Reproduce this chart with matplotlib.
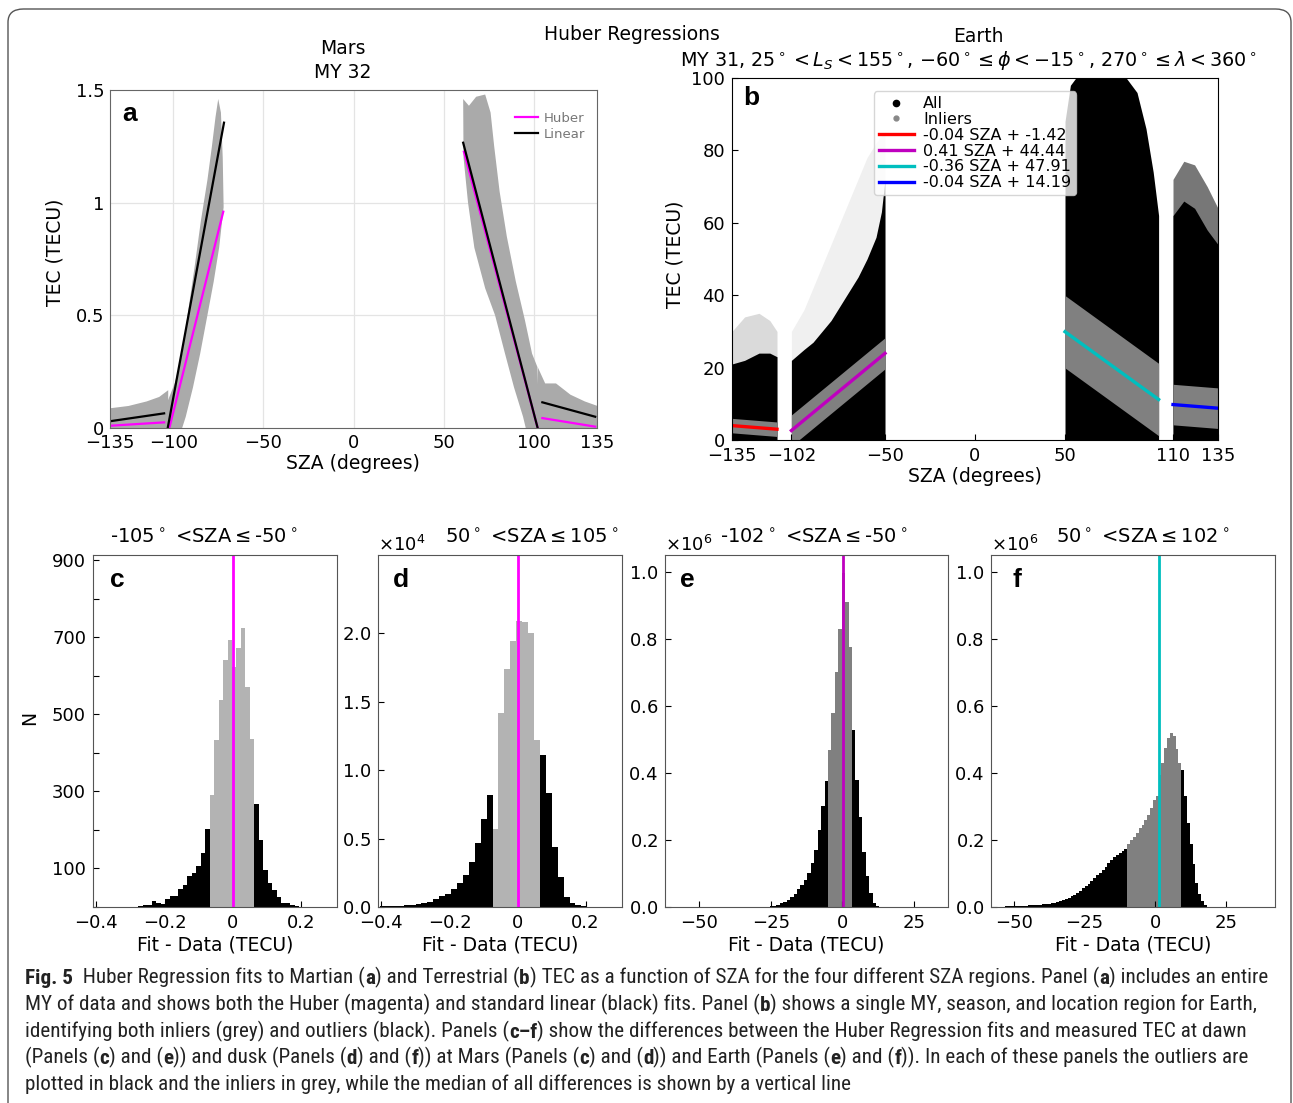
import numpy as np
import matplotlib
matplotlib.use('Agg')
import matplotlib.pyplot as plt
from matplotlib import font_manager
from matplotlib.patches import FancyBboxPatch
from matplotlib.lines import Line2D
from matplotlib.ticker import ScalarFormatter

plt.rcParams['font.family'] = 'DejaVu Sans'
plt.rcParams['font.size'] = 13
plt.rcParams['mathtext.fontset'] = 'dejavusans'

W, H = 1293, 1103

# ---------------- panel a : Mars, grey scatter envelopes ----------------
mars_tail_l_x = [-135, -125, -115, -108, -103]
mars_tail_l_top = [0.09, 0.10, 0.12, 0.14, 0.17]
mars_dawn_x = [-103, -103, -99, -95, -92, -88, -84.6, -81, -78.5, -76.5, -75, -73.5,
               -72.5, -72, -74.5, -77.5, -81, -85, -89, -93, -95]
mars_dawn_y = [0, 0.12, 0.2, 0.33, 0.5, 0.72, 0.92, 1.1, 1.25, 1.38, 1.46, 1.40,
               1.2, 0.98, 0.8, 0.65, 0.5, 0.33, 0.18, 0.05, 0]
mars_dusk_x = [60.8, 61, 63.5, 67, 73, 78.5, 84, 89, 94, 95.5,
               103, 102, 99, 95, 90, 85, 81, 78, 76, 73, 68, 64]
mars_dusk_y = [1.46, 1.2, 1.0, 0.8, 0.62, 0.5, 0.33, 0.18, 0.05, 0,
               0, 0.27, 0.33, 0.48, 0.65, 0.85, 1.05, 1.25, 1.4, 1.48, 1.47, 1.43]
mars_tail_r_x = [102, 106, 112, 120, 128, 135]
mars_tail_r_top = [0.27, 0.20, 0.20, 0.15, 0.12, 0.10]

# fit segments: [x0, x1, y0, y1]
huber_segs = [[-135, -105, 0.010, 0.025], [-102.1, -72.2, 0.0, 0.96],
              [61.2, 102.1, 1.226, 0.0], [104.7, 134, 0.044, 0.006]]
linear_segs = [[-135, -105, 0.030, 0.065], [-103.0, -71.8, 0.0, 1.355],
               [60.8, 102.1, 1.266, 0.0], [104.7, 134, 0.114, 0.050]]

# ---------------- panel b : Earth ----------------
earth_r1_x = [-135, -128, -120, -114, -110]
earth_r1_top = [21, 22, 24, 24, 23]
earth_r2_x = [-102, -95, -90, -85, -80, -75, -70, -65, -60, -55, -52, -50]
earth_r2_top = [22, 25, 27, 30, 33, 37, 41, 45, 50, 56, 63, 72]
earth_r3_x = [50, 53, 56, 70, 84, 90, 95, 99, 102]
earth_r3_top = [88, 98, 100, 100, 100, 96, 86, 74, 62]
earth_r4_x = [110, 116, 122, 129, 135]
earth_r4_top = [62, 66, 64, 58, 54]
# sparse outlier zones
earth_s1_top = [30, 34, 35, 33, 30]
earth_s2_top = [30, 36, 42, 48, 54, 60, 66, 72, 78, 82, 84, 85]
earth_s4_top = [72, 77, 76, 70, 64]

fit_slope = [-0.04, 0.41, -0.36, -0.04]
fit_inter = [-1.42, 44.44, 47.91, 14.19]
fit_lo = [-135, -102, 50, 110]
fit_hi = [-110, -50, 102, 135]
fit_band = [2.0, 4.3, 10.0, 5.6]
fit_colors = ['r', 'm', 'c', 'b']

# ---------------- histograms ----------------
c_start, c_width = -0.2903, 0.0131
c_counts = [1, 2, 4, 6, 16, 11, 9, 21, 28, 29, 47, 57, 80, 88, 106, 139, 203,
            290, 433, 537, 640, 692, 623, 671, 723, 571, 437,
            268, 173, 95, 61, 43, 26, 11, 10, 4, 2, 1]
c_inliers = (-0.068, 0.064)
c_median = 0.0

d_start, d_width = -0.404, 0.0174
d_counts_e4 = [0.004, 0.006, 0.008, 0.01, 0.012, 0.015, 0.02, 0.03, 0.04, 0.056,
               0.078, 0.095, 0.13, 0.175, 0.23, 0.33, 0.47, 0.64, 0.82,
               0.57, 1.42, 1.74, 1.94, 2.09, 2.08, 2.0, 1.22,
               1.11, 0.83, 0.44, 0.22, 0.07, 0.03, 0.012, 0.005]
d_inliers = (-0.0734, 0.0656)
d_median = 0.0

e_start, e_width = -27.8, 1.2
e_counts_e6 = [0.001, 0.001, 0.002, 0.004, 0.007, 0.011, 0.016, 0.022, 0.03, 0.04,
               0.053, 0.066, 0.08, 0.10, 0.13, 0.17, 0.23, 0.30, 0.375,
               0.467, 0.58, 0.70, 0.83, 0.995, 0.91, 0.776,
               0.527, 0.38, 0.267, 0.163, 0.093, 0.043, 0.013, 0.004]
e_inliers = (-5.0, 3.4)
e_median = 0.2

f_start, f_width = -54.9, 1.0
f_counts_e6 = [0.001, 0.001, 0.002, 0.002, 0.002, 0.002, 0.003, 0.003, 0.004, 0.004,
               0.005, 0.005, 0.006, 0.006, 0.007, 0.008, 0.009, 0.010, 0.011, 0.013,
               0.015, 0.017, 0.020, 0.024, 0.028, 0.032, 0.037, 0.043, 0.049, 0.056,
               0.063, 0.070, 0.078, 0.086, 0.094, 0.102, 0.111, 0.120, 0.130, 0.140,
               0.148, 0.156, 0.162, 0.168, 0.173,
               0.187, 0.20, 0.21, 0.22, 0.235, 0.245, 0.26, 0.275, 0.295, 0.32,
               0.33, 0.395, 0.43, 0.475, 0.505, 0.52, 0.51, 0.47, 0.43,
               0.41, 0.33, 0.25, 0.187, 0.128, 0.073, 0.038, 0.018, 0.005]
f_inliers = (-9.9, 9.1)
f_median = 1.2

fig = plt.figure(figsize=(W / 100, H / 100), dpi=100)


def ax_at(l, t, r, b):
    return fig.add_axes([l / W, 1 - b / H, (r - l) / W, (b - t) / H])


def ftext(x, y, s, **kw):
    kw.setdefault('ha', 'center')
    kw.setdefault('va', 'center')
    return fig.text(x / W, 1 - y / H, s, **kw)


def panel_letter(ax, x, y, s):
    ax.text(x, y, s, transform=ax.transAxes, fontsize=19, fontweight='bold',
            family='Liberation Sans', ha='center', va='center', zorder=10)


# ======================= panel a =======================
ax = ax_at(110, 90, 597, 428)
grey = '#aaaaaa'
ax.fill_between(mars_tail_l_x, 0, mars_tail_l_top, color=grey, lw=0)
ax.fill(mars_dawn_x, mars_dawn_y, color=grey, lw=0)
ax.fill(mars_dusk_x, mars_dusk_y, color=grey, lw=0)
ax.fill_between(mars_tail_r_x, 0, mars_tail_r_top, color=grey, lw=0)
for i, (s_h, s_l) in enumerate(zip(huber_segs, linear_segs)):
    ax.plot(s_h[:2], s_h[2:], color='#ff00ff', lw=1.6, label='Huber' if i == 0 else None)
    ax.plot(s_l[:2], s_l[2:], color='k', lw=1.6, label='Linear' if i == 0 else None)
ax.set_xlim(-135, 135)
ax.set_ylim(0, 1.5)
ax.set_xticks([-135, -100, -50, 0, 50, 100, 135])
ax.set_xticklabels(['\u2212135', '\u2212100', '\u221250', '0', '50', '100', '135'])
ax.set_yticks([0, 0.5, 1, 1.5])
ax.set_yticklabels(['0', '0.5', '1', '1.5'])
ax.tick_params(length=0, pad=4)
for xv in [-100, -50, 0, 50, 100]:
    ax.axvline(xv, color='#e4e4e4', lw=0.9, zorder=0)
for yv in [0.5, 1.0]:
    ax.axhline(yv, color='#e4e4e4', lw=0.9, zorder=0)
for sp in ax.spines.values():
    sp.set_color('#666666')
ax.legend(loc='upper right', fontsize=9.5, frameon=False, labelcolor='#777777',
          handlelength=1.8, handletextpad=0.4, labelspacing=0.2,
          bbox_to_anchor=(1.0, 0.97))
panel_letter(ax, 0.04, 0.93, 'a')
ftext(343, 48, 'Mars', fontsize=13.5)
ftext(343, 72, 'MY 32', fontsize=13.5)
ftext(353, 464, 'SZA (degrees)', fontsize=13.5)
ftext(55, 252, 'TEC (TECU)', rotation=90, fontsize=13.5)

# ======================= panel b =======================
ax = ax_at(732, 78, 1218, 440)
ax.fill_between(earth_r1_x, 0, earth_s1_top, color='#dadada', lw=0)
ax.fill_between(earth_r2_x, 0, earth_s2_top, color='#f0f0f0', lw=0)
ax.fill_between(earth_r4_x, 0, earth_s4_top, color='#777777', lw=0)
for xs, tops in [(earth_r1_x, earth_r1_top), (earth_r2_x, earth_r2_top),
                 (earth_r3_x, earth_r3_top), (earth_r4_x, earth_r4_top)]:
    ax.fill_between(xs, 0, tops, color='k', lw=0)
handles = [Line2D([], [], ls='', marker='o', color='k', ms=4.5, label='All'),
           Line2D([], [], ls='', marker='o', color='#888888', ms=3.5, label='Inliers')]
for m, b0, lo, hi, bw, col in zip(fit_slope, fit_inter, fit_lo, fit_hi, fit_band, fit_colors):
    xs = np.array([lo, hi])
    ys = m * xs + b0
    ax.fill_between(xs, ys - bw, ys + bw, color='#808080', lw=0)
    ln, = ax.plot(xs, ys, color=col, lw=2.4, label='%.2f SZA + %.2f' % (m, b0))
    handles.append(ln)
ax.set_xlim(-135, 135)
ax.set_ylim(0, 100)
ax.set_xticks([-135, -102, -50, 0, 50, 110, 135])
ax.set_xticklabels(['\u2212135', '\u2212102', '\u221250', '0', '50', '110', '135'])
ax.set_yticks([0, 20, 40, 60, 80, 100])
ax.tick_params(direction='in', length=4, pad=5)
ax.legend(handles=handles, loc='upper center', bbox_to_anchor=(0.5, 0.985),
          fontsize=11.5, labelspacing=0.05, borderpad=0.3, handlelength=2.2,
          handletextpad=0.6, framealpha=0.8, edgecolor='#cccccc')
panel_letter(ax, 0.04, 0.945, 'b')
ftext(632, 34, 'Huber Regressions', fontsize=13.5)
ftext(978, 37, 'Earth', fontsize=13.5)
ftext(968, 60, r'MY 31, 25$^\circ$$<L_S<$155$^\circ$, $-60^\circ\leq\phi<-15^\circ$, '
               r'270$^\circ\leq\lambda<360^\circ$', fontsize=13.8)
ftext(975, 476, 'SZA (degrees)', fontsize=13.5)
ftext(675, 254, 'TEC (TECU)', rotation=90, fontsize=13.5)


# ======================= histograms =======================
def draw_hist(ax, start, width, counts, inl, median, mcol, gcol):
    counts = np.asarray(counts, dtype=float)
    edges = start + width * np.arange(len(counts) + 1)
    mids = edges[:-1] + width / 2
    inside = np.where((mids > inl[0]) & (mids < inl[1]))[0]
    ax.stairs(counts, edges, fill=True, color='k', lw=0)
    ax.stairs(counts[inside], edges[inside[0]:inside[-1] + 2], fill=True, color=gcol, lw=0)
    ax.axvline(median, color=mcol, lw=2)
    ax.tick_params(direction='in', length=4, pad=5, right=False, top=False)
    for sp in ax.spines.values():
        sp.set_color('#555555')


ax_c = ax_at(93, 555, 337, 907)
draw_hist(ax_c, c_start, c_width, c_counts, c_inliers, c_median, '#ff00ff', '#b3b3b3')
ax_c.set_xlim(-0.41, 0.306)
ax_c.set_ylim(0, 913)
ax_c.set_yticks(np.arange(0, 1000, 100))
ax_c.set_yticklabels(['', '100', '', '300', '', '500', '', '700', '', '900'])
ax_c.set_xticks([-0.4, -0.2, 0, 0.2])
ax_c.set_xticklabels(['\u22120.4', '\u22120.2', '0', '0.2'])
panel_letter(ax_c, 0.098, 0.93, 'c')

ax_d = ax_at(378, 555, 622, 907)
draw_hist(ax_d, d_start, d_width, np.array(d_counts_e4) * 1e4, d_inliers, d_median,
          '#ff00ff', '#b3b3b3')
ax_d.set_xlim(-0.41, 0.307)
ax_d.set_ylim(0, 2.57e4)
ax_d.set_yticks([0, 0.5e4, 1e4, 1.5e4, 2e4])
ax_d.set_xticks([-0.4, -0.2, 0, 0.2])
ax_d.set_xticklabels(['\u22120.4', '\u22120.2', '0', '0.2'])
panel_letter(ax_d, 0.094, 0.93, 'd')

ax_e = ax_at(665, 555, 948, 907)
draw_hist(ax_e, e_start, e_width, np.array(e_counts_e6) * 1e6, e_inliers, e_median,
          '#bf00bf', '#808080')
ax_e.set_xlim(-62, 37)
ax_e.set_ylim(0, 1.05e6)
ax_e.set_yticks(np.arange(0, 1.01e6, 0.2e6))
ax_e.set_xticks([-50, -25, 0, 25])
panel_letter(ax_e, 0.078, 0.93, 'e')

ax_f = ax_at(991, 555, 1275, 907)
draw_hist(ax_f, f_start, f_width, np.array(f_counts_e6) * 1e6, f_inliers, f_median,
          '#00bfbf', '#808080')
ax_f.set_xlim(-58, 42.2)
ax_f.set_ylim(0, 1.05e6)
ax_f.set_yticks(np.arange(0, 1.01e6, 0.2e6))
ax_f.set_xticks([-50, -25, 0, 25])
panel_letter(ax_f, 0.09, 0.93, 'f')

for a in (ax_d, ax_e, ax_f):
    fmt = ScalarFormatter(useMathText=True)
    fmt.set_powerlimits((0, 0))
    a.yaxis.set_major_formatter(fmt)
    a.yaxis.get_offset_text().set_fontsize(13)

ftext(204, 538, r'-105$^\circ$ <SZA$\leq$-50$^\circ$', fontsize=14)
ftext(532, 538, r'50$^\circ$ <SZA$\leq$105$^\circ$', fontsize=14)
ftext(814, 538, r'-102$^\circ$ <SZA$\leq$-50$^\circ$', fontsize=14)
ftext(1143, 538, r'50$^\circ$ <SZA$\leq$102$^\circ$', fontsize=14)
for xc in (215, 500, 806, 1133):
    ftext(xc, 945, 'Fit - Data (TECU)', fontsize=13.5)
ftext(30, 718, 'N', rotation=90, fontsize=13.5)

# ======================= caption =======================
names = {f.name for f in font_manager.fontManager.ttflist}
CAP_FONT = 'Liberation Sans'
for cand in ['Liberation Sans Narrow', 'Roboto Condensed', 'Open Sans Condensed']:
    if cand in names:
        CAP_FONT = cand
        break

cap_ax = fig.add_axes([0, 0, 1, 1])
cap_ax.set_axis_off()
cap_texts = []


def rich_line(y_px, segs):
    prev = None
    first = None
    for s, bold in segs:
        kw = dict(family=CAP_FONT, fontweight='bold' if bold else 'normal',
                  fontsize=14, va='bottom', ha='left', color='#222222')
        if prev is None:
            t = cap_ax.text(25 / W, 1 - y_px / H, s, transform=fig.transFigure, **kw)
            first = t
        else:
            t = cap_ax.annotate(s, xy=(1, 0), xycoords=prev, **kw)
        cap_texts.append(t)
        prev = t
    return first, prev


B, N = True, False
line1 = rich_line(988, [('Fig. 5', B), ('  Huber Regression fits to Martian (', N), ('a', B),
                        (') and Terrestrial (', N), ('b', B),
                        (') TEC as a function of SZA for the four different SZA regions. Panel (', N),
                        ('a', B), (') includes an entire', N)])
rich_line(1015, [('MY of data and shows both the Huber (magenta) and standard linear (black) fits. Panel (', N),
                 ('b', B), (') shows a single MY, season, and location region for Earth,', N)])
rich_line(1042, [('identifying both inliers (grey) and outliers (black). Panels (', N), ('c\u2013f', B),
                 (') show the differences between the Huber Regression fits and measured TEC at dawn', N)])
rich_line(1068, [('(Panels (', N), ('c', B), (') and (', N), ('e', B), (')) and dusk (Panels (', N),
                 ('d', B), (') and (', N), ('f', B), (')) at Mars (Panels (', N), ('c', B),
                 (') and (', N), ('d', B), (')) and Earth (Panels (', N), ('e', B), (') and (', N),
                 ('f', B), (')). In each of these panels the outliers are', N)])
rich_line(1094, [('plotted in black and the inliers in grey, while the median of all differences '
                  'is shown by a vertical line', N)])

for _ in range(2):
    fig.canvas.draw()
    rend = fig.canvas.get_renderer()
    w_now = line1[1].get_window_extent(rend).x1 - line1[0].get_window_extent(rend).x0
    scale = (1263 - 25) / w_now
    for t in cap_texts:
        t.set_fontsize(t.get_fontsize() * scale)

border = FancyBboxPatch((8 / W, -0.05), 1283 / W, 1.05 - 9 / H,
                        boxstyle='round,pad=0,rounding_size=0.012',
                        transform=fig.transFigure, fill=False, ec='#555555', lw=1.0)
fig.add_artist(border)

fig.savefig('out.png', dpi=100)
